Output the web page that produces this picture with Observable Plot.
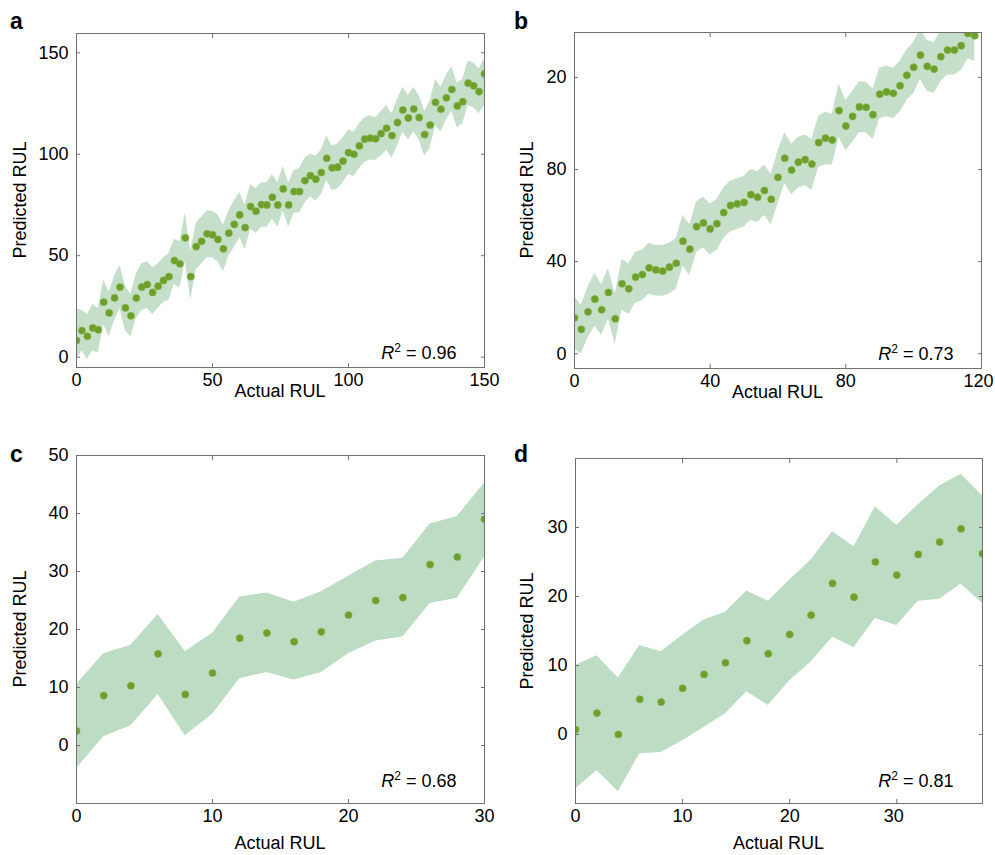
<!DOCTYPE html>
<html><head><meta charset="utf-8">
<script src="https://cdn.jsdelivr.net/npm/d3@7"></script>
<script src="https://cdn.jsdelivr.net/npm/@observablehq/plot@0.6"></script>
<style>
body{margin:0;background:#fff;}
#page{position:relative;width:995px;height:855px;font-family:"Liberation Sans",Arial,Helvetica,sans-serif;color:#000;overflow:hidden;}
.panel{position:absolute;}
.letter{position:absolute;font-weight:bold;font-size:23px;line-height:1;}
.ylab{position:absolute;font-size:18px;line-height:1;transform:translate(-50%,-50%) rotate(-90deg);white-space:nowrap;}
.xlab{position:absolute;font-size:18px;line-height:1;transform:translate(-50%,-50%);white-space:nowrap;}
</style></head><body><div id="page"></div>
<script>
// ---------- data ----------
const panelLetters = ["a", "b", "c", "d"];
const xAxisTitle = "Actual RUL";
const yAxisTitle = "Predicted RUL";
const r2Values = ["0.96", "0.73", "0.68", "0.81"];

// panel a
const xA = [0,2,4,6,8,10,12,14,16,18,20,22,24,26,28,30,32,34,36,38,40,42,44,46,48,50,52,54,56,58,60,62,64,66,68,70,72,74,76,78,80,82,84,86,88,90,92,94,96,98,100,102,104,106,108,110,112,114,116,118,120,122,124,126,128,130,132,134,136,138,140,142,144,146,148,150];
const yA = [8.2,13.1,10.3,14.4,13.5,27.1,21.8,29.2,34.5,24.3,20.4,29.1,34.5,35.8,31.9,35,37.8,39.7,47.6,46,58.8,39.7,54.5,57.1,60.8,60.3,58,53.4,61.1,65.4,70.1,63.9,74.2,71.9,75.2,75,78.8,75,82.9,75,81.6,81.6,87,89.5,87.7,91,98,93.3,93.6,96.6,100.8,100,104.1,107.4,107.9,107.6,110.2,112.8,109.2,115.6,121.8,117.9,122.3,118.1,109.7,114.4,125.6,122.2,127.8,131.9,123.8,125.9,135,133.7,130.9,139.6];
const loA = [-1,3,-1,3,2,16,10,18,24,13,10,19,23,24,21,24,27,28,36,34,47,28,43,46,49,49,47,42,50,54,59,53,63,61,64,64,68,64,72,64,71,71,76,79,77,80,87,82,83,86,90,89,93,96,97,97,99,102,98,104,111,107,111,107,99,103,114,111,117,121,113,115,124,123,120,124];
const hiA = [24,23,21,26,24,38,32,40,45,35,31,41,46,47,44,46,49,51,58,57,71,52,66,69,72,72,70,65,72,77,81,75,85,83,86,86,90,86,94,86,92,93,98,100,99,102,109,104,105,108,112,111,115,118,119,118,121,124,120,127,133,129,133,129,121,126,137,133,139,143,135,137,146,145,142,147];
const xTicksA = [0,50,100,150];
const yTicksA = [0,50,100,150];
const yTickLabelsA = ["0","50","100","150"];

// panel b
const xB = [0,2,4,6,8,10,12,14,16,18,20,22,24,26,28,30,32,34,36,38,40,42,44,46,48,50,52,54,56,58,60,62,64,66,68,70,72,74,76,78,80,82,84,86,88,90,92,94,96,98,100,102,104,106,108,110,112,114,116,118];
const yB = [15.6,10.6,18.2,23.7,19.1,26.6,15.2,30.4,28.2,33.3,34.4,37.3,36.4,35.9,37.6,39.3,48.9,45.4,55.2,56.8,54.2,56.5,61.3,64.4,65.1,65.7,69.1,68,70.9,67.1,76.6,84.9,79.8,83.2,84.3,82.4,91.7,93.6,92.8,105.6,98.9,103.1,107.2,107,103.8,112.7,113.7,113.1,116.4,120.9,124.4,129.7,124.8,123.6,129,131.9,131.9,133.8,139.1,138.1];
const loB = [2,0,7,12,8,15,4,19,17,22,23,26,25,25,26,28,38,34,44,46,43,45,50,53,54,55,58,57,60,56,65,74,69,72,73,71,81,82,82,94,88,92,96,96,93,102,103,102,105,110,113,119,114,113,118,121,121,123,128,127];
const hiB = [25,21,29,35,30,37,26,41,39,44,45,48,47,47,48,50,60,56,66,68,65,67,72,75,76,77,80,79,82,78,88,96,91,94,95,93,103,105,104,117,110,114,118,118,115,124,125,124,127,132,135,141,136,135,140,143,143,145,150,149];
const xTicksB = [0,40,80,120];
const yTicksB = [0,40,80,120];
const yTickLabelsB = ["0","40","80","20"];

// panel c
const xC = [0,2,4,6,8,10,12,14,16,18,20,22,24,26,28,30];
const yC = [2.5,8.6,10.3,15.8,8.8,12.5,18.5,19.4,17.9,19.6,22.5,25,25.5,31.2,32.5,39];
const loC = [-4,1.5,3.4,8.8,1.7,5.4,11.5,12.6,11.3,12.6,15.8,18,18.7,24.5,25.4,32.5];
const hiC = [10.5,15.8,17.3,22.6,16.2,19.3,25.6,26.3,24.7,26.5,29.2,31.8,32.3,38.2,39.5,45.2];
const xTicksC = [0,10,20,30];
const yTicksC = [0,10,20,30,40,50];
const yTickLabelsC = ["0","10","20","30","40","50"];

// panel d
const xD = [0,2,4,6,8,10,12,14,16,18,20,22,24,26,28,30,32,34,36,38];
const yD = [0.7,3.1,0,5.1,4.7,6.7,8.7,10.4,13.6,11.7,14.5,17.3,21.9,19.9,25,23.1,26.1,27.9,29.8,26.2];
const loD = [-7.9,-5.2,-8.3,-2.8,-2.6,-0.9,1,3,6.2,4.2,7.8,10.5,14.1,12.6,16.8,15.8,19.3,19.6,21.8,19];
const hiD = [10,11.4,8.2,12.9,12,14.4,16.6,17.7,20.8,19.3,22.4,25.3,29.4,27.2,33,30.3,33.3,36,37.7,34.6];
const xTicksD = [0,10,20,30];
const yTicksD = [0,10,20,30];
const yTickLabelsD = ["0","10","20","30"];

// ---------- style / layout ----------
const FONT = '"Liberation Sans", Arial, Helvetica, sans-serif';
const DOT = "#6c9f2c";
const FRAME = "#707070";

const panels = [
  {x:xA,y:yA,lo:loA,hi:hiA,xt:xTicksA,yt:yTicksA,ytl:yTickLabelsA,xd:[0,150],yd:[-5.1,159.5],
   left:0,top:0,w:495,h:420,ml:76,mr:11,mt:33,mb:53,band:"#c6dfca",r2dx:-28,r2dy:-9,xlabOff:24,ylabX:20},
  {x:xB,y:yB,lo:loB,hi:hiB,xt:xTicksB,yt:yTicksB,ytl:yTickLabelsB,xd:[0,120],yd:[-6.4,139.5],
   left:495,top:0,w:500,h:420,ml:79,mr:14,mt:32,mb:52,band:"#c6dfca",r2dx:-28,r2dy:-9,xlabOff:24,ylabX:32},
  {x:xC,y:yC,lo:loC,hi:hiC,xt:xTicksC,yt:yTicksC,ytl:yTickLabelsC,xd:[0,30],yd:[-10,50],
   left:0,top:425,w:495,h:430,ml:76,mr:11,mt:30,mb:52,band:"#bddcc4",r2dx:-28,r2dy:-17,xlabOff:40,ylabX:20},
  {x:xD,y:yD,lo:loD,hi:hiD,xt:xTicksD,yt:yTicksD,ytl:yTickLabelsD,xd:[0,38],yd:[-10,40],
   left:495,top:425,w:500,h:430,ml:80,mr:13,mt:33,mb:52,band:"#bddcc4",r2dx:-29,r2dy:-17,xlabOff:40,ylabX:32}
];

const page = document.getElementById("page");

panels.forEach((p, k) => {
  const data = p.x.map((x, i) => ({x, y: p.y[i], lo: p.lo[i], hi: p.hi[i]}));
  const labelMap = new Map(p.yt.map((t, i) => [t, p.ytl[i]]));
  const r2Text = "R2 = " + r2Values[k];
  const chart = Plot.plot({
    width: p.w, height: p.h,
    marginLeft: p.ml, marginRight: p.mr, marginTop: p.mt, marginBottom: p.mb,
    x: {domain: p.xd},
    y: {domain: p.yd},
    style: {fontFamily: FONT, fontSize: "18px", color: "#000", background: "transparent", overflow: "visible"},
    marks: [
      Plot.areaY(data, {x: "x", y1: "lo", y2: "hi", fill: p.band, clip: true}),
      Plot.dot(data, {x: "x", y: "y", r: 3.6, fill: DOT, stroke: "#7fb53e", strokeWidth: 0.6, clip: true}),
      Plot.frame({stroke: FRAME, strokeWidth: 1}),
      Plot.axisX({ticks: p.xt, tickSize: 0, tickPadding: 6, tickFormat: d => String(d), label: null}),
      Plot.axisX({ticks: p.xt, anchor: "bottom", tickSize: -4, tickFormat: () => "", label: null, color: FRAME}),
      Plot.axisX({ticks: p.xt, anchor: "top", tickSize: -4, tickFormat: () => "", label: null, color: FRAME}),
      Plot.axisY({ticks: p.yt, tickSize: 0, tickPadding: 8, tickFormat: d => labelMap.get(d), label: null}),
      Plot.axisY({ticks: p.yt, anchor: "left", tickSize: -4, tickFormat: () => "", label: null, color: FRAME}),
      Plot.axisY({ticks: p.yt, anchor: "right", tickSize: -4, tickFormat: () => "", label: null, color: FRAME}),
      Plot.text([r2Text], {text: d => d, frameAnchor: "bottom-right", textAnchor: "end", lineAnchor: "bottom",
        dx: p.r2dx, dy: p.r2dy, fontSize: 18, fill: "#000"})
    ]
  });
  // superscript / italic formatting of the R² annotation
  d3.select(chart).selectAll("text").filter(function() { return this.textContent === r2Text; })
    .each(function() {
      const t = d3.select(this);
      t.text(null);
      t.append("tspan").attr("font-style", "italic").text("R");
      t.append("tspan").attr("font-size", 12).attr("dy", -7).text("2");
      t.append("tspan").attr("dy", 7).text(" = " + r2Values[k]);
    });
  // keep the last x tick label of the right-hand panels inside the page edge
  if (k % 2 === 1) {
    const last = String(p.xt[p.xt.length - 1]);
    d3.select(chart).selectAll("text").filter(function() { return this.textContent === last && this.closest("[aria-label='x-axis tick label']"); })
      .attr("dx", -3);
  }

  const div = document.createElement("div");
  div.className = "panel";
  div.style.left = p.left + "px";
  div.style.top = p.top + "px";
  div.appendChild(chart);
  page.appendChild(div);

  const frameL = p.left + p.ml, frameR = p.left + p.w - p.mr;
  const frameT = p.top + p.mt, frameB = p.top + p.h - p.mb;

  const xl = document.createElement("div");
  xl.className = "xlab";
  xl.textContent = xAxisTitle;
  xl.style.left = ((frameL + frameR) / 2) + "px";
  xl.style.top = (frameB + p.xlabOff) + "px";
  page.appendChild(xl);

  const yl = document.createElement("div");
  yl.className = "ylab";
  yl.textContent = yAxisTitle;
  yl.style.left = (p.left + p.ylabX) + "px";
  yl.style.top = ((frameT + frameB) / 2) + "px";
  page.appendChild(yl);

  const lt = document.createElement("div");
  lt.className = "letter";
  lt.textContent = panelLetters[k];
  lt.style.left = (p.left + (k % 2 ? 19 : 10)) + "px";
  lt.style.top = (p.top + (k < 2 ? 10 : 18)) + "px";
  page.appendChild(lt);
});
</script>
</body></html>
